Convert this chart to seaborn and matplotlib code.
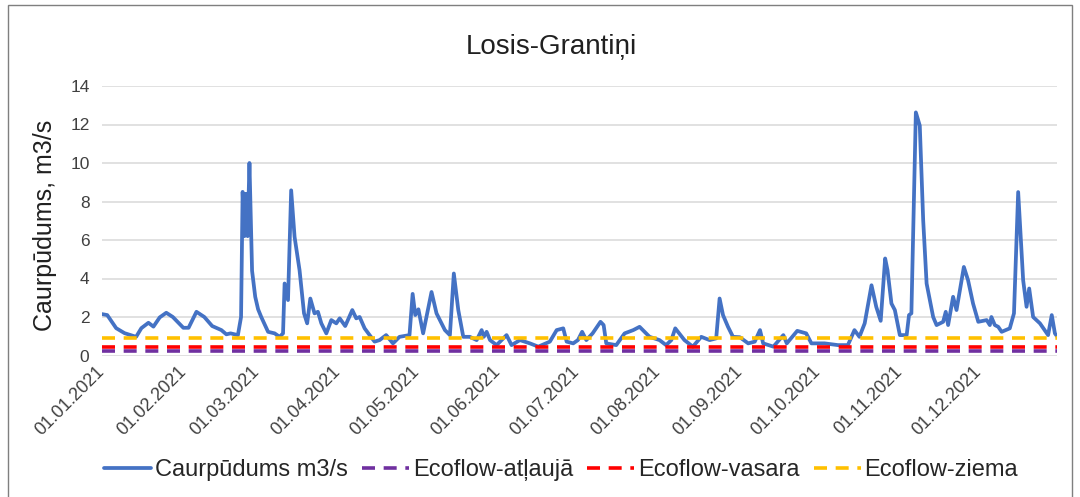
import numpy as np
import pandas as pd
import matplotlib
matplotlib.use("Agg")
import matplotlib.pyplot as plt
import matplotlib.dates as mdates
import seaborn as sns
from matplotlib.patches import Rectangle

# ---------------- data ----------------
chart_title = "Losis-Grantiņi"
y_label = "Caurpūdums, m3/s"
series_names = ["Caurpūdums m3/s", "Ecoflow-atļaujā", "Ecoflow-vasara", "Ecoflow-ziema"]

# day offsets from 01.01.2021 and discharge values (m3/s)
flow_days = [0, 2, 4, 5.4, 8.6, 13, 15, 17.7, 19.6, 22, 24.5, 27, 31, 33, 36, 39, 42, 45.5,
             47.4, 49, 51.8, 53, 53.6, 54.3, 54.8, 55.5, 56.2, 57.2, 58.4, 59.5, 60.7, 63.3,
             65.8, 67.7, 69, 69.6, 70.9, 72.1, 73.4, 75.3, 77, 78.2, 79.4, 81, 82.3, 83.6,
             85.5, 87.4, 89.3, 90.6, 92.7, 95.4, 96.9, 98.2, 100.1, 102, 103.9, 105.8, 108.3,
             110.9, 113.4, 117.2, 118.4, 119.4, 120.6, 122.4, 125.6, 127.5, 130.7, 132.6,
             134.1, 135.8, 137.7, 140.2, 142.8, 144.7, 145.5, 146.6, 147.9, 150.4, 154.2,
             156.1, 159.3, 163.1, 166.3, 170.7, 173.3, 175.8, 177.1, 179.6, 181.4, 183, 184.6,
             187, 190, 191.2, 192.2, 196, 199.2, 202.5, 204.9, 206.8, 208.7, 212.5, 215, 217,
             218.5, 220, 222, 225.2, 228.4, 231.6, 234.1, 235.4, 236.7, 238.6, 240.5, 243.1,
             246.3, 248.8, 250.8, 252, 255.9, 259.7, 261, 265, 268.4, 270.4, 275.4, 280.5,
             284.3, 286.8, 288.7, 290.7, 293.3, 295.1, 296.8, 298.5, 299.4, 300.9, 302.2,
             304.1, 306.7, 307.6, 308.5, 310.2, 311.7, 313, 314.3, 316.8, 318.1, 320.6, 321.6,
             322.5, 324.4, 325.7, 328.5, 330.1, 332, 334, 337.2, 338.4, 339, 340.3, 341.6,
             342.9, 346, 347.6, 349.2, 351.1, 352.4, 353.4, 354.9, 357.5, 360.6, 362, 363.2,
             364]
flow_values = [2.15, 2.1, 1.7, 1.42, 1.16, 0.97, 1.42, 1.7, 1.5, 1.98, 2.22, 2.0, 1.44, 1.44,
               2.27, 2.0, 1.53, 1.32, 1.1, 1.15, 1.06, 2.0, 8.5, 6.2, 8.4, 6.2, 10.0, 4.4,
               3.05, 2.4, 2.0, 1.23, 1.15, 0.97, 1.15, 3.74, 2.88, 8.58, 6.16, 4.43, 2.19,
               1.67, 2.96, 2.19, 2.27, 1.67, 1.15, 1.84, 1.67, 1.93, 1.53, 2.36, 1.93, 2.0,
               1.41, 1.06, 0.72, 0.8, 1.06, 0.63, 0.97, 1.06, 3.2, 2.1, 2.4, 1.15, 3.3, 2.19,
               1.32, 1.06, 4.26, 2.36, 0.97, 0.97, 0.8, 1.32, 0.97, 1.23, 0.8, 0.54, 1.06,
               0.54, 0.8, 0.63, 0.46, 0.72, 1.32, 1.41, 0.72, 0.63, 0.8, 1.23, 0.8, 1.15,
               1.75, 1.58, 0.63, 0.54, 1.15, 1.32, 1.49, 1.23, 0.97, 0.8, 0.54, 0.8, 1.41,
               1.15, 0.8, 0.46, 0.97, 0.8, 0.89, 2.96, 2.1, 1.49, 0.97, 0.95, 0.63, 0.72,
               1.32, 0.63, 0.46, 1.06, 0.63, 1.28, 1.15, 0.63, 0.63, 0.54, 0.54, 1.32, 0.97,
               1.67, 3.65, 2.53, 1.8, 5.04, 4.43, 2.7, 2.36, 1.06, 1.06, 2.1, 2.19, 12.63,
               11.94, 7.02, 3.74, 2.0, 1.58, 1.75, 2.27, 1.58, 3.05, 2.36, 4.6, 3.91, 2.7,
               1.75, 1.84, 1.58, 2.0, 1.58, 1.49, 1.23, 1.41, 2.19, 8.49, 3.91, 2.53, 3.48,
               2.0, 1.67, 1.06, 2.1, 1.15, 1.0]

ecoflow_atlauja = [0.24, 0.24]
ecoflow_vasara = [0.46, 0.46]
ecoflow_ziema = [0.89, 0.89]
ecoflow_dates = ["2021-01-01", "2021-12-31"]

tick_dates = ["2021-01-01", "2021-02-01", "2021-03-01", "2021-04-01", "2021-05-01",
              "2021-06-01", "2021-07-01", "2021-08-01", "2021-09-01", "2021-10-01",
              "2021-11-01", "2021-12-01"]
tick_labels = ["01.01.2021", "01.02.2021", "01.03.2021", "01.04.2021", "01.05.2021",
               "01.06.2021", "01.07.2021", "01.08.2021", "01.09.2021", "01.10.2021",
               "01.11.2021", "01.12.2021"]
y_ticks = [0, 2, 4, 6, 8, 10, 12, 14]

# ---------------- style ----------------
sns.set_theme(style="white")
plt.rcParams['font.family'] = ['Liberation Sans', 'DejaVu Sans']

start = pd.Timestamp("2021-01-01")
flow_df = pd.DataFrame({"date": start + pd.to_timedelta(flow_days, unit="D"),
                        "value": flow_values})
eco_df = pd.DataFrame({"date": pd.to_datetime(ecoflow_dates),
                       "atl": ecoflow_atlauja, "vas": ecoflow_vasara, "zie": ecoflow_ziema})

W, H = 1080, 497
fig = plt.figure(figsize=(W / 100, H / 100), dpi=100)
fig.patch.set_facecolor("white")
ax = fig.add_axes([102 / W, 1 - 355.5 / H, 955 / W, (355.5 - 86) / H])

sns.lineplot(data=flow_df, x="date", y="value", ax=ax, color="#4472C4", lw=2.7,
             label=series_names[0], zorder=3)
sns.lineplot(data=eco_df, x="date", y="atl", ax=ax, color="#7030A0", lw=2.6,
             linestyle=(0, (3.6, 2.4)), label=series_names[1], zorder=4)
sns.lineplot(data=eco_df, x="date", y="vas", ax=ax, color="#FF0000", lw=2.6,
             linestyle=(0, (3.6, 2.4)), label=series_names[2], zorder=5)
sns.lineplot(data=eco_df, x="date", y="zie", ax=ax, color="#FFC000", lw=2.6,
             linestyle=(0, (3.6, 2.4)), label=series_names[3], zorder=6)

ax.set_xlim(pd.Timestamp("2021-01-01"), pd.Timestamp("2021-12-31"))
ax.set_ylim(0, 14)
ax.set_yticks(y_ticks)
ax.set_yticklabels([str(v) for v in y_ticks], fontsize=12.5, color="#404040")
ax.set_xticks(pd.to_datetime(tick_dates))
ax.set_xticklabels(tick_labels, fontsize=13, color="#404040", rotation=45,
                   ha="right", va="center", rotation_mode="anchor")
ax.tick_params(axis="y", length=0, pad=9)
ax.tick_params(axis="x", length=0, pad=10)
ax.grid(axis="y", color="#D9D9D9", lw=1.1)
ax.grid(axis="x", visible=False)
ax.set_xlabel("")
ax.set_ylabel("")
for s in ax.spines.values():
    s.set_visible(False)

handles, labels = ax.get_legend_handles_labels()
ax.get_legend().remove()
fig.legend(handles, labels, loc="center", bbox_to_anchor=(561 / W, 1 - 470 / H), ncol=4,
           frameon=False, fontsize=17, handlelength=2.0, handletextpad=0.15,
           columnspacing=0.6)

fig.text(551 / W, 1 - 47 / H, chart_title, ha="center", va="center", fontsize=20,
         color="#202020")
fig.text(45 / W, 1 - 225 / H, y_label, ha="center", va="center", rotation=90,
         fontsize=18, color="#202020")

fig.patches.append(Rectangle((8 / W, -0.02), (1072 - 8) / W, 1.02 - 5 / H,
                             transform=fig.transFigure, fill=False,
                             edgecolor="#7F7F7F", lw=1.0))

fig.savefig("out.png", dpi=100, facecolor="white")
